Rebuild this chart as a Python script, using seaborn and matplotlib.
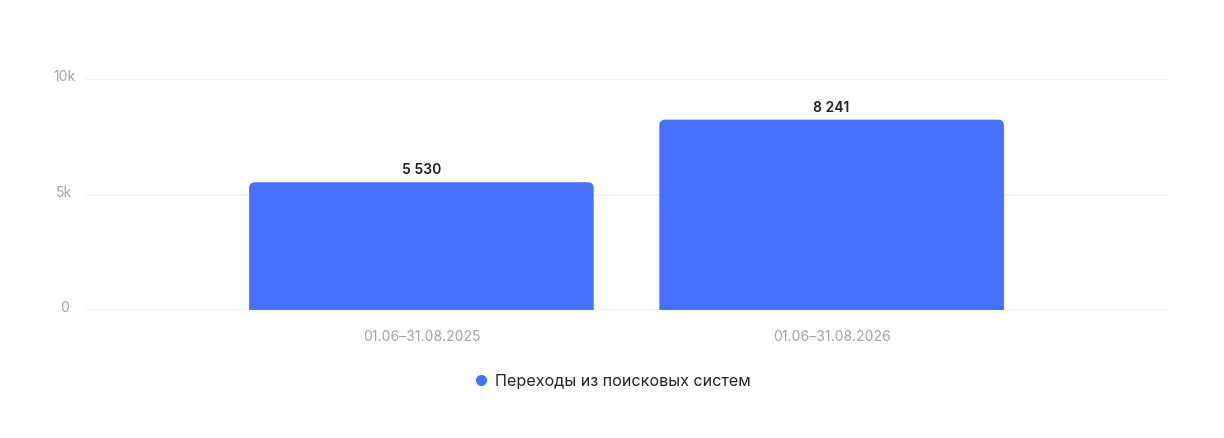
import matplotlib
matplotlib.use("Agg")
import matplotlib.pyplot as plt
import matplotlib.transforms as mtransforms
import seaborn as sns
import pandas as pd
from matplotlib.patches import FancyBboxPatch
from matplotlib.lines import Line2D

# --- DATA ---
periods = ["01.06–31.08.2025", "01.06–31.08.2026"]
visits = [5530, 8241]
series_name = "Переходы из поисковых систем"

BAR_COLOR = "#4670FF"

sns.set_theme(style="white")
plt.rcParams["font.family"] = ["Inter", "DejaVu Sans"]

df = pd.DataFrame({"period": periods, "visits": visits})

fig = plt.figure(figsize=(12.24, 4.39), dpi=100)
ax = fig.add_axes([85 / 1224, 1 - 311 / 439, (1168 - 85) / 1224, (311 - 80) / 439])

sns.barplot(data=df, x="period", y="visits", color=BAR_COLOR, width=0.84,
            saturation=1, ax=ax, zorder=3)
ax.set_xlim(-0.82, 1.82)
ax.set_ylim(0, 10000)

# swap plain bars for ones with rounded tops
px_x = (1168 - 85) / 2.64
px_y = (311 - 80) / 10000
r_px = 6
for bar in list(ax.patches):
    x, w, h = bar.get_x(), bar.get_width(), bar.get_height()
    rx = r_px / px_x
    ry = r_px / px_y
    rounded = FancyBboxPatch((x + rx, 0), w - 2 * rx, h - ry,
                             boxstyle=f"round,pad={rx},rounding_size={rx}",
                             mutation_aspect=ry / rx, facecolor=BAR_COLOR,
                             edgecolor="none", zorder=3)
    ax.add_patch(rounded)
    bar.set_visible(False)
    ax.text(x + w / 2, h + 250, f"{int(h):,}".replace(",", " "), ha="center",
            va="bottom", fontsize=10, fontweight="semibold", color="#1f1f1f")

ax.set_yticks([0, 5000, 10000])
ax.set_yticklabels(["0", "5k", "10k"])
ax.yaxis.grid(True, color="#f0f0f0", linewidth=1.2, zorder=0)
ax.set_axisbelow(True)
for s in ax.spines.values():
    s.set_visible(False)
ax.tick_params(axis="y", length=0, pad=15, labelsize=10, labelcolor="#a3a3a3")
ax.tick_params(axis="x", length=0, pad=14, labelsize=10, labelcolor="#a3a3a3")
shift = mtransforms.ScaledTranslation(0, 3 / 72, fig.dpi_scale_trans)
for lbl in ax.get_yticklabels():
    lbl.set_horizontalalignment("center")
    lbl.set_transform(lbl.get_transform() + shift)
ax.set_xlabel("")
ax.set_ylabel("")

handle = Line2D([], [], marker="o", linestyle="none", markersize=8,
                markerfacecolor=BAR_COLOR, markeredgecolor="none")
fig.legend([handle], [series_name], loc="center", bbox_to_anchor=(611 / 1224, 1 - 382 / 439),
           frameon=False, fontsize=11.6, handletextpad=0.3, handlelength=1.2,
           labelcolor="#222222")

fig.savefig("out.png", dpi=100)
